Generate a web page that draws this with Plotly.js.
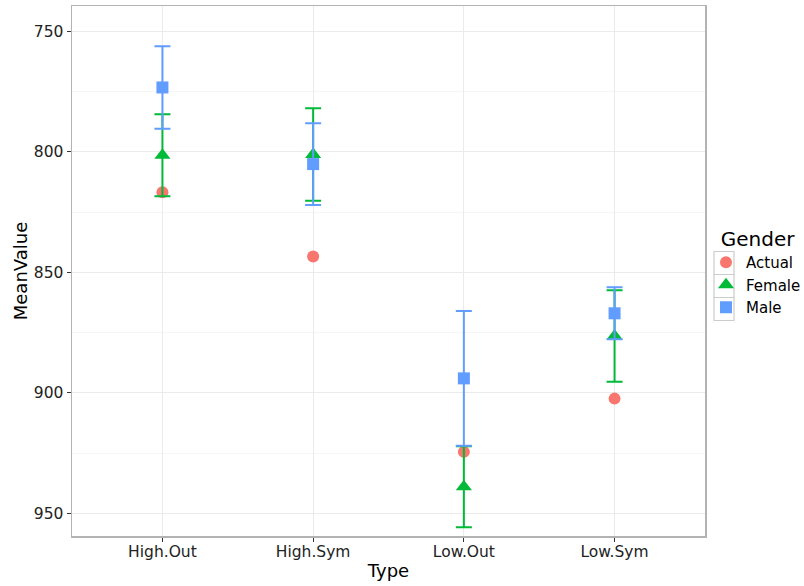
<!DOCTYPE html>
<html>
<head>
<meta charset="utf-8">
<script src="https://cdn.plot.ly/plotly-3.0.1.min.js"></script>
<style>html,body{margin:0;padding:0;background:#fff;}#chart{width:804px;height:586px;}</style>
</head>
<body>
<div id="chart"></div>
<script>
const types = ["High.Out", "High.Sym", "Low.Out", "Low.Sym"];
const actualMean = [816.8, 843.4, 924.5, 902.4];
const femaleMean = [801.4, 801.1, 939.0, 876.4];
const femaleSE = [17.0, 19.2, 16.8, 19.0];
const maleMean = [773.3, 805.1, 894.0, 867.0];
const maleSE = [17.1, 17.0, 28.0, 10.8];

const font = "DejaVu Sans, Liberation Sans, sans-serif";

const traces = [
  {
    x: types, y: actualMean, type: "scatter", mode: "markers", name: "Actual",
    marker: {symbol: "circle", size: 12, color: "#F8766D"}
  },
  {
    x: types, y: femaleMean, type: "scatter", mode: "markers", name: "Female",
    marker: {symbol: "triangle-up", size: 14, color: "#00BA38"},
    error_y: {type: "data", array: femaleSE, visible: true, thickness: 2, width: 8, color: "#00BA38"}
  },
  {
    x: types, y: maleMean, type: "scatter", mode: "markers", name: "Male",
    marker: {symbol: "square", size: 12, color: "#619CFF"},
    error_y: {type: "data", array: maleSE, visible: true, thickness: 2, width: 8, color: "#619CFF"}
  }
];

// legend key boxes (decoration, paper coordinates)
const W = 804, H = 586, L = 72, R = 99, T = 6, B = 50;
const pw = W - L - R, ph = H - T - B;
const px = v => (v - L) / pw;
const py = v => (H - B - v) / ph;
const keyCenters = [263, 286, 309];
const shapes = keyCenters.map(c => ({
  type: "rect", xref: "paper", yref: "paper",
  x0: px(714), x1: px(734), y0: py(c + 11.5), y1: py(c - 11.5),
  line: {color: "#cccccc", width: 1.2}, fillcolor: "rgba(0,0,0,0)", layer: "below"
}));

const layout = {
  width: W, height: H,
  margin: {l: L, r: R, t: T, b: B, autoexpand: false},
  paper_bgcolor: "#fff", plot_bgcolor: "#fff",
  font: {family: font, color: "#000"},
  showlegend: true,
  shapes: shapes,
  xaxis: {
    type: "category", range: [-0.6, 3.6],
    title: {text: "Type", font: {size: 18, color: "#000"}, standoff: 4},
    tickfont: {size: 15.5, color: "#222"},
    ticks: "outside", ticklen: 4, tickcolor: "#333", tickwidth: 1.2,
    ticklabelstandoff: -3,
    showgrid: true, gridcolor: "#ebebeb", gridwidth: 1,
    showline: true, mirror: true, linecolor: "#b3b3b3", linewidth: 1.5,
    zeroline: false, automargin: false
  },
  yaxis: {
    range: [959.4, 739.5],
    tickvals: [750, 800, 850, 900, 950],
    title: {text: "MeanValue", font: {size: 18, color: "#000"}, standoff: 1},
    tickfont: {size: 15.5, color: "#222"},
    ticks: "outside", ticklen: 4, tickcolor: "#333", tickwidth: 1.2,
    showgrid: true, gridcolor: "#ebebeb", gridwidth: 1,
    minor: {tickvals: [775, 825, 875, 925], showgrid: true, gridcolor: "#f4f4f4", gridwidth: 0.8, ticks: ""},
    showline: true, mirror: true, linecolor: "#b3b3b3", linewidth: 1.5,
    zeroline: false, automargin: false
  },
  legend: {
    x: px(706), xanchor: "left", y: py(220), yanchor: "top",
    title: {text: "\u00a0\u00a0Gender", font: {size: 20, color: "#000"}},
    font: {size: 15, color: "#000"},
    bgcolor: "rgba(0,0,0,0)", tracegroupgap: 0, itemwidth: 30
  }
};

Plotly.newPlot("chart", traces, layout, {displayModeBar: false, staticPlot: true});
</script>
</body>
</html>
